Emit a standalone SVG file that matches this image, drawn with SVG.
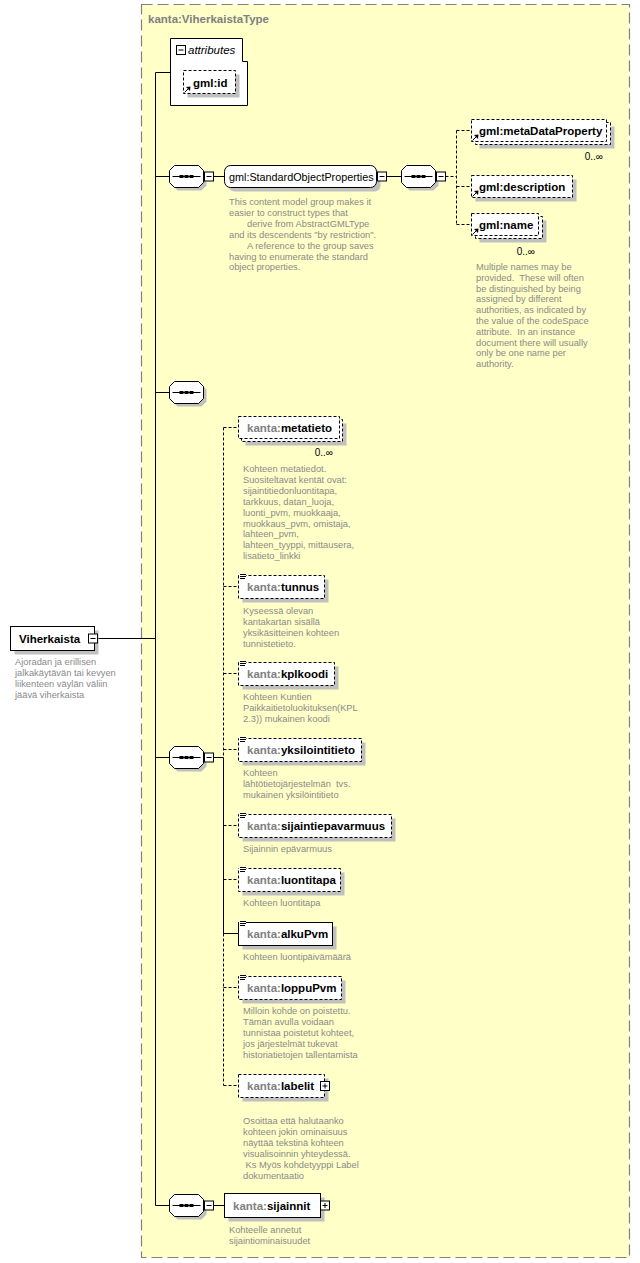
<svg xmlns="http://www.w3.org/2000/svg" width="640" height="1263" viewBox="0 0 640 1263">
<style>
.bg{fill:#FFFFC8;stroke:#808080;stroke-width:1.2;stroke-dasharray:11,5}
.box{fill:#fff;stroke:#000;stroke-width:1}
.dash{stroke-dasharray:3,2}
.sh{fill:#c0c0c0;stroke:none}
.ln{stroke:#000;stroke-width:1;fill:none}
.nm{font-family:"Liberation Sans",Arial,sans-serif;font-weight:bold;font-size:11.5px;fill:#000}
.px{fill:#808080}
.ds{font-family:"Liberation Sans",Arial,sans-serif;font-size:9.3px;fill:#8a8a8a;white-space:pre}
.oc{font-family:"Liberation Sans",Arial,sans-serif;font-size:10px;fill:#000}
</style>
<defs>
<g id="seq">
<path class="sh" d="M8,3 H32 L37,8 V20 L32,25 H8 L3,20 V8 Z"/>
<path class="box" d="M5,0 H29 L34,5 V17 L29,22 H5 L0,17 V5 Z"/>
<path class="ln" d="M3,11 H31"/>
<rect x="10" y="9.5" width="4" height="3" fill="#000"/>
<rect x="15" y="9.5" width="4" height="3" fill="#000"/>
<rect x="20" y="9.5" width="4" height="3" fill="#000"/>
</g>
<g id="minus">
<rect class="box" x="0" y="0" width="9" height="9"/>
<path class="ln" d="M2,4.5 H7"/>
</g>
<g id="plus">
<rect class="box" x="0" y="0" width="9" height="9"/>
<path class="ln" d="M2,4.5 H7 M4.5,2 V7"/>
</g>
<g id="ic">
<rect x="0.5" y="-1.5" width="7" height="6" fill="#fff"/>
<path class="ln" d="M1.5,-1 H7.5 M1.5,1 H7.5 M1.5,3 H6.5"/>
</g>
<g id="ref">
<path class="ln" d="M1.5,-1.5 L5.5,-5.5"/>
<path d="M7.5,-7.5 L3,-7 L7,-3 Z" fill="#000"/>
</g>
</defs>

<rect class="bg" x="141.5" y="4.5" width="488" height="1253"/>
<text x="148" y="23" font-family="Liberation Sans, Arial, sans-serif" font-weight="bold" font-size="11.5px" fill="#808080">kanta:ViherkaistaType</text>

<g id="connectors">
<path class="ln" d="M155.5,72.5 V1205.5 M155.5,72.5 H170.5 M97.5,638.5 H155.5 M155.5,176.5 H169.5 M213.5,176.5 H224.5 M386.5,176.5 H401.5 M155.5,392.5 H169.5 M155.5,757.5 H169.5 M213.5,757.5 H223.5 M223.5,757.5 V933.5 H238.5 M155.5,1205.5 H169.5 M213.5,1205.5 H224.5"/>
<path class="ln dash" d="M445.5,176.5 H456.5 M456.5,130.5 V224.5 M456.5,130.5 H471.5 M456.5,186.5 H471.5 M456.5,224.5 H471.5"/>
<path class="ln dash" d="M223.5,427.5 V757.5 M223.5,933.5 V1085.5 M223.5,427.5 H238.5 M223.5,586.5 H238.5 M223.5,673.5 H238.5 M223.5,749.5 H238.5 M223.5,825.5 H238.5 M223.5,879.5 H238.5 M223.5,987.5 H238.5 M223.5,1085.5 H238.5"/>
</g>

<g id="viherkaista">
<rect class="sh" x="14.5" y="630.5" width="84" height="24"/>
<rect class="box" x="10.5" y="626.5" width="84" height="24"/>
<use href="#minus" x="88.5" y="634"/>
<text class="nm" x="19" y="643" font-size="12px">Viherkaista</text>
<text class="ds" x="15" y="665"><tspan x="15">Ajoradan ja erillisen</tspan><tspan x="15" dy="10.9">jalkakäytävän tai kevyen</tspan><tspan x="15" dy="10.9">liikenteen väylän väliin</tspan><tspan x="15" dy="10.9">jäävä viherkaista</tspan></text>
</g>

<g id="attributes">
<path class="box" d="M170.5,38.5 H242.5 V61.5 H247.5 V105.5 H170.5 Z"/>
<use href="#minus" x="176.5" y="45.5"/>
<text x="188" y="54" font-family="Liberation Sans, Arial, sans-serif" font-style="italic" font-size="11.5px" fill="#000">attributes</text>
</g>

<g id="gml-id">
<rect class="sh" x="187.5" y="74.5" width="52" height="23"/>
<rect class="box dash" x="183.5" y="70.5" width="52" height="23"/>
<text class="nm" x="193" y="87">gml:id</text>
<use href="#ref" x="183" y="94"/>
</g>

<g id="seq1">
<use href="#seq" x="169.5" y="165.5"/>
<use href="#minus" x="204.5" y="172"/>
</g>

<g id="standardObjectProperties">
<rect class="sh" x="228.5" y="169.5" width="152" height="22" rx="6"/>
<rect class="box" x="224.5" y="165.5" width="152" height="22" rx="6"/>
<use href="#minus" x="377.5" y="172"/>
<text x="229" y="180.5" font-family="Liberation Sans, Arial, sans-serif" font-size="10.8px" fill="#000">gml:StandardObjectProperties</text>
<text class="ds" x="229" y="205"><tspan x="229">This content model group makes it</tspan><tspan x="229" dy="10.9">easier to construct types that</tspan><tspan x="247" dy="10.9">derive from AbstractGMLType</tspan><tspan x="229" dy="10.9">and its descendents "by restriction".</tspan><tspan x="247" dy="10.9">A reference to the group saves</tspan><tspan x="229" dy="10.9">having to enumerate the standard</tspan><tspan x="229" dy="10.9">object properties.</tspan></text>
</g>

<g id="seq2">
<use href="#seq" x="401.5" y="165.5"/>
<use href="#minus" x="436.5" y="172"/>
</g>

<g id="metaDataProperty">
<rect class="sh" x="479.5" y="126.5" width="135" height="22"/>
<rect class="box dash" x="475.5" y="122.5" width="135" height="22"/>
<rect class="box dash" x="471.5" y="119.5" width="135" height="22"/>
<text class="nm" x="479" y="135">gml:metaDataProperty</text>
<use href="#ref" x="471" y="142"/>
<text class="oc" x="603" y="160" text-anchor="end">0..∞</text>
</g>

<g id="description">
<rect class="sh" x="475.5" y="179.5" width="101" height="22"/>
<rect class="box dash" x="471.5" y="175.5" width="101" height="22"/>
<text class="nm" x="479" y="191">gml:description</text>
<use href="#ref" x="471" y="198"/>
</g>

<g id="name">
<rect class="sh" x="479.5" y="220.5" width="67" height="22"/>
<rect class="box dash" x="475.5" y="216.5" width="67" height="22"/>
<rect class="box dash" x="471.5" y="213.5" width="67" height="22"/>
<text class="nm" x="479" y="229">gml:name</text>
<use href="#ref" x="471" y="236"/>
<text class="oc" x="535" y="255" text-anchor="end">0..∞</text>
<text class="ds" x="476" y="270"><tspan x="476">Multiple names may be</tspan><tspan x="476" dy="10.8">provided.  These will often</tspan><tspan x="476" dy="10.8">be distinguished by being</tspan><tspan x="476" dy="10.8">assigned by different</tspan><tspan x="476" dy="10.8">authorities, as indicated by</tspan><tspan x="476" dy="10.8">the value of the codeSpace</tspan><tspan x="476" dy="10.8">attribute.  In an instance</tspan><tspan x="476" dy="10.8">document there will usually</tspan><tspan x="476" dy="10.8">only be one name per</tspan><tspan x="476" dy="10.8">authority.</tspan></text>
</g>

<g id="seq3">
<use href="#seq" x="169.5" y="381.5"/>
</g>

<g id="seq4">
<use href="#seq" x="169.5" y="746.5"/>
<use href="#minus" x="204.5" y="753"/>
</g>

<g id="metatieto">
<rect class="sh" x="245.5" y="423.5" width="101" height="22"/>
<rect class="box dash" x="241.5" y="419.5" width="101" height="22"/>
<rect class="box dash" x="238.5" y="416.5" width="101" height="22"/>
<text class="nm" x="247" y="432"><tspan class="px">kanta:</tspan>metatieto</text>
<text class="oc" x="333" y="456" text-anchor="end">0..∞</text>
<text class="ds" x="243" y="472"><tspan x="243">Kohteen metatiedot.</tspan><tspan x="243" dy="10.9">Suositeltavat kentät ovat:</tspan><tspan x="243" dy="10.9">sijaintitiedonluontitapa,</tspan><tspan x="243" dy="10.9">tarkkuus, datan_luoja,</tspan><tspan x="243" dy="10.9">luonti_pvm, muokkaaja,</tspan><tspan x="243" dy="10.9">muokkaus_pvm, omistaja,</tspan><tspan x="243" dy="10.9">lahteen_pvm,</tspan><tspan x="243" dy="10.9">lahteen_tyyppi, mittausera,</tspan><tspan x="243" dy="10.9">lisatieto_linkki</tspan></text>
</g>

<g id="tunnus">
<rect class="sh" x="242.5" y="579.5" width="86" height="23"/>
<rect class="box dash" x="238.5" y="575.5" width="86" height="23"/>
<use href="#ic" x="238.5" y="575.5"/>
<text class="nm" x="247" y="591"><tspan class="px">kanta:</tspan>tunnus</text>
<text class="ds" x="243" y="614"><tspan x="243">Kyseessä olevan</tspan><tspan x="243" dy="10.9">kantakartan sisällä</tspan><tspan x="243" dy="10.9">yksikäsitteinen kohteen</tspan><tspan x="243" dy="10.9">tunnistetieto.</tspan></text>
</g>

<g id="kplkoodi">
<rect class="sh" x="242.5" y="666.5" width="96" height="23"/>
<rect class="box dash" x="238.5" y="662.5" width="96" height="23"/>
<use href="#ic" x="238.5" y="662.5"/>
<text class="nm" x="247" y="678"><tspan class="px">kanta:</tspan>kplkoodi</text>
<text class="ds" x="243" y="700"><tspan x="243">Kohteen Kuntien</tspan><tspan x="243" dy="10.9">Paikkaitietoluokituksen(KPL</tspan><tspan x="243" dy="10.9">2.3)) mukainen koodi</tspan></text>
</g>

<g id="yksilointitieto">
<rect class="sh" x="242.5" y="742.5" width="123" height="23"/>
<rect class="box dash" x="238.5" y="738.5" width="123" height="23"/>
<use href="#ic" x="238.5" y="738.5"/>
<text class="nm" x="247" y="754"><tspan class="px">kanta:</tspan>yksilointitieto</text>
<text class="ds" x="243" y="776"><tspan x="243">Kohteen</tspan><tspan x="243" dy="10.9">lähtötietojärjestelmän  tvs.</tspan><tspan x="243" dy="10.9">mukainen yksilöintitieto</tspan></text>
</g>

<g id="sijaintiepavarmuus">
<rect class="sh" x="242.5" y="818.5" width="153" height="23"/>
<rect class="box dash" x="238.5" y="814.5" width="153" height="23"/>
<use href="#ic" x="238.5" y="814.5"/>
<text class="nm" x="247" y="830"><tspan class="px">kanta:</tspan>sijaintiepavarmuus</text>
<text class="ds" x="243" y="852">Sijainnin epävarmuus</text>
</g>

<g id="luontitapa">
<rect class="sh" x="242.5" y="872.5" width="102" height="23"/>
<rect class="box dash" x="238.5" y="868.5" width="102" height="23"/>
<use href="#ic" x="238.5" y="868.5"/>
<text class="nm" x="247" y="884"><tspan class="px">kanta:</tspan>luontitapa</text>
<text class="ds" x="243" y="906">Kohteen luontitapa</text>
</g>

<g id="alkuPvm">
<rect class="sh" x="242.5" y="926.5" width="94" height="23"/>
<rect class="box" x="238.5" y="922.5" width="94" height="23"/>
<use href="#ic" x="238.5" y="922.5"/>
<text class="nm" x="247" y="938"><tspan class="px">kanta:</tspan>alkuPvm</text>
<text class="ds" x="243" y="960">Kohteen luontipäivämäärä</text>
</g>

<g id="loppuPvm">
<rect class="sh" x="242.5" y="980.5" width="103" height="23"/>
<rect class="box dash" x="238.5" y="976.5" width="103" height="23"/>
<use href="#ic" x="238.5" y="976.5"/>
<text class="nm" x="247" y="992"><tspan class="px">kanta:</tspan>loppuPvm</text>
<text class="ds" x="243" y="1014"><tspan x="243">Milloin kohde on poistettu.</tspan><tspan x="243" dy="10.9">Tämän avulla voidaan</tspan><tspan x="243" dy="10.9">tunnistaa poistetut kohteet,</tspan><tspan x="243" dy="10.9">jos järjestelmät tukevat</tspan><tspan x="243" dy="10.9">historiatietojen tallentamista</tspan></text>
</g>

<g id="labelit">
<rect class="sh" x="242.5" y="1078.5" width="86" height="23"/>
<rect class="box dash" x="238.5" y="1074.5" width="86" height="23"/>
<use href="#plus" x="320.5" y="1081.5"/>
<text class="nm" x="247" y="1090"><tspan class="px">kanta:</tspan>labelit</text>
<text class="ds" x="243" y="1124"><tspan x="243">Osoittaa että halutaanko</tspan><tspan x="243" dy="10.9">kohteen jokin ominaisuus</tspan><tspan x="243" dy="10.9">näyttää tekstinä kohteen</tspan><tspan x="243" dy="10.9">visualisoinnin yhteydessä.</tspan><tspan x="243" dy="10.9"> Ks Myös kohdetyyppi Label</tspan><tspan x="243" dy="10.9">dokumentaatio</tspan></text>
</g>

<g id="seq5">
<use href="#seq" x="169.5" y="1194.5"/>
<use href="#minus" x="204.5" y="1201"/>
</g>

<g id="sijainnit">
<rect class="sh" x="228.5" y="1197.5" width="96" height="24"/>
<rect class="box" x="224.5" y="1193.5" width="96" height="24"/>
<use href="#plus" x="320.5" y="1201"/>
<text class="nm" x="233" y="1210"><tspan class="px">kanta:</tspan>sijainnit</text>
<text class="ds" x="229" y="1233"><tspan x="229">Kohteelle annetut</tspan><tspan x="229" dy="10.9">sijaintiominaisuudet</tspan></text>
</g>
</svg>
